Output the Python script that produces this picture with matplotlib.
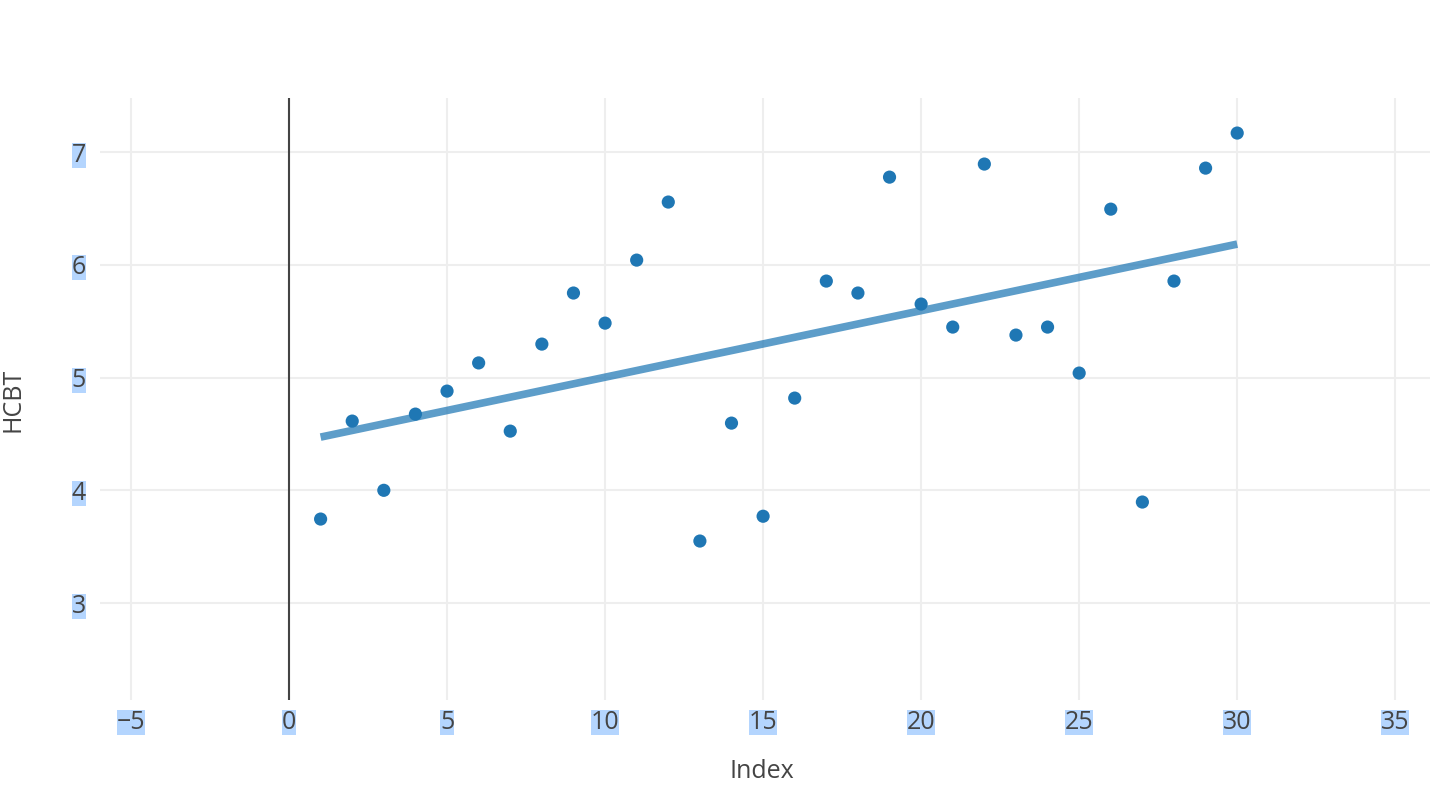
import matplotlib
matplotlib.use("Agg")
import matplotlib.pyplot as plt
import numpy as np

plt.rcParams['font.family'] = ['Open Sans', 'DejaVu Sans']

x_vals = list(range(1, 31))
y_vals = [3.745, 4.614, 4.00, 4.676, 4.88, 5.13, 4.525, 5.297, 5.75, 5.483,
          6.042, 6.557, 3.55, 4.596, 3.77, 4.818, 5.856, 5.75, 6.778, 5.652,
          5.448, 6.894, 5.377, 5.448, 5.04, 6.494, 3.896, 5.856, 6.858, 7.169]
trend_x = [1, 30]
trend_y = [4.472, 6.184]
x_ticks = [-5, 0, 5, 10, 15, 20, 25, 30, 35]
y_ticks = [3, 4, 5, 6, 7]
x_title = "Index"
y_title = "HCBT"

W, H = 1446, 786
fig = plt.figure(figsize=(W / 100, H / 100), dpi=100)
ax = fig.add_axes([100 / W, 1 - 700 / H, 1330 / W, 602 / H])

ax.set_xlim(-5.98, 36.1)
ax.set_ylim(2.14, 7.48)

ax.set_xticks(x_ticks)
ax.set_yticks(y_ticks)
ax.set_xticklabels(["\u2212" + str(-t) if t < 0 else str(t) for t in x_ticks])
ax.set_yticklabels([str(t) for t in y_ticks])
ax.grid(True, color='#eeeeee', linewidth=1.5)
ax.set_axisbelow(True)
for s in ax.spines.values():
    s.set_visible(False)
ax.tick_params(length=0, labelsize=18, labelcolor='#444444')
ax.tick_params(axis='x', pad=7)
ax.tick_params(axis='y', pad=10)
for lbl in ax.get_xticklabels() + ax.get_yticklabels():
    lbl.set_bbox(dict(facecolor='#b4d5fe', edgecolor='none', pad=0))

ax.axvline(0, color='#444444', linewidth=1.5, zorder=2)

ax.plot(trend_x, trend_y, color='#1f77b4', alpha=0.72, linewidth=5.5,
        solid_capstyle='butt', zorder=3)
ax.scatter(x_vals, y_vals, s=90, color='#1f77b4', edgecolors='none', zorder=4)

fig.text(1 / W, 1 - 400 / H, y_title, rotation=90, ha='left', va='center',
         fontsize=18, color='#444444')
fig.text(762 / W, 2 / H, x_title, ha='center', va='bottom',
         fontsize=18, color='#444444')

fig.savefig("out.png", dpi=100)
